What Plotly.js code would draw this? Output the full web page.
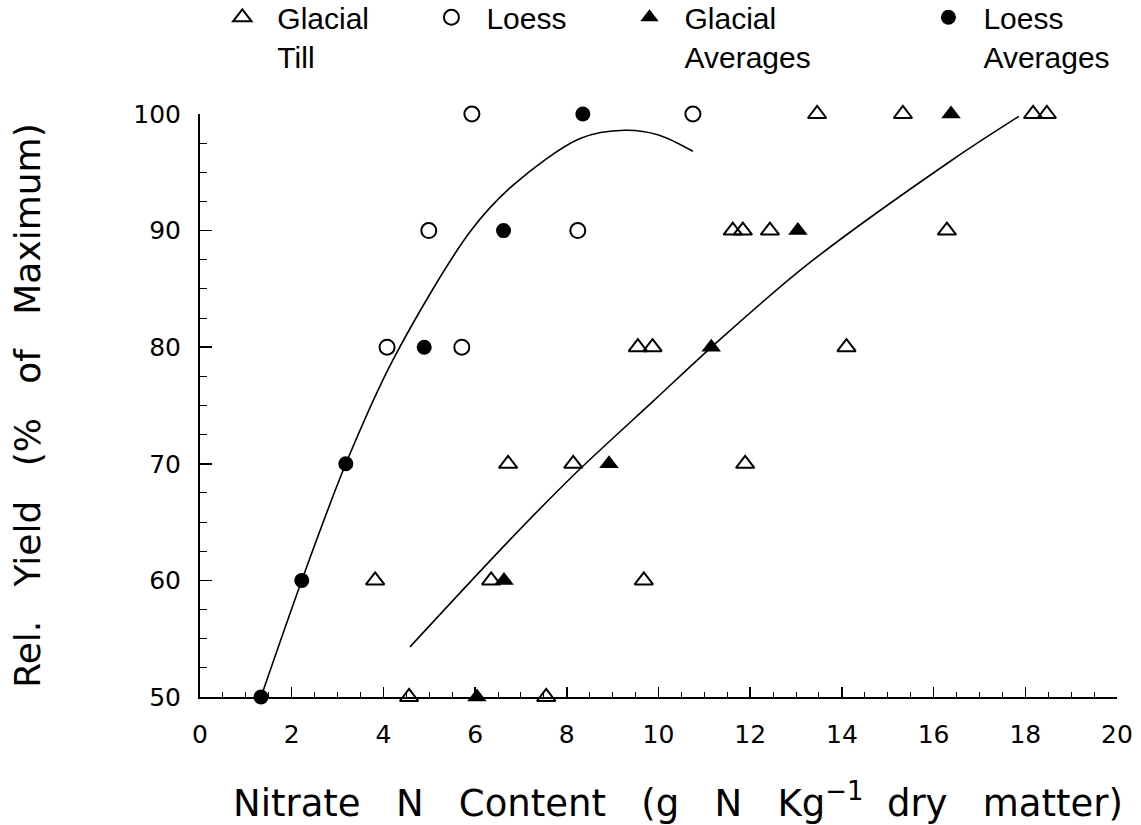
<!DOCTYPE html>
<html>
<head>
<meta charset="utf-8">
<script src="https://cdn.plot.ly/plotly-3.0.1.min.js"></script>
<style>html,body{margin:0;padding:0;background:#fff;}</style>
</head>
<body>
<div id="chart" style="width:1141px;height:825px;"></div>
<script>
// ---- Data ----
var glacialTillX = [13.46, 15.33, 18.17, 18.47, 11.62, 11.84, 12.43, 16.29, 9.55, 9.87, 14.10, 6.72, 8.14, 11.89, 3.82, 6.35, 9.68, 4.56, 7.55];
var glacialTillY = [100, 100, 100, 100, 90, 90, 90, 90, 80, 80, 80, 70, 70, 70, 60, 60, 60, 50, 50];

var loessX = [5.93, 10.75, 4.99, 8.24, 4.08, 5.71];
var loessY = [100, 100, 90, 90, 80, 80];

var glacialAvgX = [6.04, 6.63, 8.92, 11.15, 13.04, 16.38];
var glacialAvgY = [50, 60, 70, 80, 90, 100];

var loessAvgX = [1.33, 2.22, 3.18, 4.89, 6.62, 8.35];
var loessAvgY = [50, 60, 70, 80, 90, 100];

// fitted curves as drawn in the reference
var loessCurveX = [1.33, 2.22, 3.18, 4.22, 5.89, 6.83, 8.29, 9.27, 10.0, 10.75];
var loessCurveY = [50.0, 60.0, 70.0, 79.0, 89.9, 93.9, 97.9, 98.6, 98.2, 96.8];

var glacialCurveX = [4.58, 6.69, 8.14, 9.92, 11.21, 13.25, 16.42, 17.86];
var glacialCurveY = [54.3, 63.2, 69.0, 75.5, 80.2, 87.1, 96.1, 99.8];

var xTickVals = [0, 2, 4, 6, 8, 10, 12, 14, 16, 18, 20];
var yTickVals = [50, 60, 70, 80, 90, 100];

var seriesNames = ['Glacial<br>Till', 'Loess', 'Glacial<br>Averages', 'Loess<br>Averages'];

var NB = '\u00A0';
function gap(n){ return new Array(n + 1).join(NB); }

var xTitle = 'Nitrate' + gap(3) + 'N' + gap(3) + 'Content' + gap(3) + '(g' + gap(3) + 'N' + gap(3) + 'Kg<sup>\u22121</sup>' + gap(2) + 'dry' + gap(3) + 'matter)';
var yTitle = 'Rel.' + gap(3) + 'Yield' + gap(3) + '(%' + gap(3) + 'of' + gap(3) + 'Maximum)';

var traces = [
  {x: loessCurveX, y: loessCurveY, mode: 'lines', type: 'scatter', showlegend: false,
   line: {color: 'black', width: 1.6, shape: 'spline', smoothing: 0.9}, hoverinfo: 'skip'},
  {x: glacialCurveX, y: glacialCurveY, mode: 'lines', type: 'scatter', showlegend: false,
   line: {color: 'black', width: 1.6, shape: 'spline', smoothing: 0.9}, hoverinfo: 'skip'},
  {x: glacialTillX, y: glacialTillY, mode: 'markers', type: 'scatter', name: seriesNames[0],
   legend: 'legend', cliponaxis: false,
   marker: {symbol: 'triangle-up-open', size: 16, color: 'black', line: {color: 'black', width: 2}}},
  {x: loessX, y: loessY, mode: 'markers', type: 'scatter', name: seriesNames[1],
   legend: 'legend2', cliponaxis: false,
   marker: {symbol: 'circle-open', size: 15, color: 'black', line: {color: 'black', width: 2}}},
  {x: glacialAvgX, y: glacialAvgY, mode: 'markers', type: 'scatter', name: seriesNames[2],
   legend: 'legend3', cliponaxis: false,
   marker: {symbol: 'triangle-up', size: 17, color: 'black', line: {width: 0}}},
  {x: loessAvgX, y: loessAvgY, mode: 'markers', type: 'scatter', name: seriesNames[3],
   legend: 'legend4', cliponaxis: false,
   marker: {symbol: 'circle', size: 15, color: 'black', line: {width: 0}}}
];

var legendFont = {family: 'Liberation Sans, Arial, sans-serif', size: 30, color: 'black'};
function mkLegend(x) {
  return {x: x, y: 1.2105, xanchor: 'left', yanchor: 'top', orientation: 'v',
          font: legendFont, bgcolor: 'rgba(0,0,0,0)', borderwidth: 0,
          valign: 'top', itemwidth: 60, itemclick: false, itemdoubleclick: false};
}

var tickFont = {family: 'DejaVu Sans, sans-serif', size: 25, color: 'black'};
var titleFont = {family: 'DejaVu Sans, sans-serif', size: 36, color: 'black'};

var layout = {
  width: 1141, height: 825,
  margin: {l: 200, r: 24, t: 114, b: 128, pad: 0, autoexpand: false},
  paper_bgcolor: 'white', plot_bgcolor: 'white',
  showlegend: true,
  legend: mkLegend(0.008),
  legend2: mkLegend(0.236),
  legend3: mkLegend(0.452),
  legend4: mkLegend(0.778),
  xaxis: {
    range: [0, 20], tickmode: 'array', tickvals: xTickVals,
    ticks: 'inside', ticklen: 10, tickwidth: 1.5, tickcolor: 'black',
    showline: true, linewidth: 2, linecolor: 'black', automargin: false,
    showgrid: false, zeroline: false, tickfont: tickFont, ticklabelstandoff: 14,
    minor: {dtick: 0.5, tick0: 0, ticks: 'inside', ticklen: 5, tickwidth: 1, tickcolor: 'black', showgrid: false}
  },
  yaxis: {
    range: [50, 100], tickmode: 'array', tickvals: yTickVals,
    ticks: 'inside', ticklen: 12, tickwidth: 1.5, tickcolor: 'black',
    showline: true, linewidth: 2, linecolor: 'black', automargin: false,
    showgrid: false, zeroline: false, tickfont: tickFont, ticklabelstandoff: 12,
    minor: {dtick: 2.5, tick0: 50, ticks: 'inside', ticklen: 7, tickwidth: 1, tickcolor: 'black', showgrid: false},
    title: {text: yTitle, font: titleFont, standoff: 82}
  },
  annotations: [
    {text: xTitle, xref: 'paper', yref: 'paper', x: 0.521, y: -0.177,
     xanchor: 'center', yanchor: 'middle', showarrow: false,
     font: {family: 'DejaVu Sans, sans-serif', size: 37, color: 'black'}}
  ]
};

Plotly.newPlot('chart', traces, layout, {displayModeBar: false, staticPlot: true});
</script>
</body>
</html>
